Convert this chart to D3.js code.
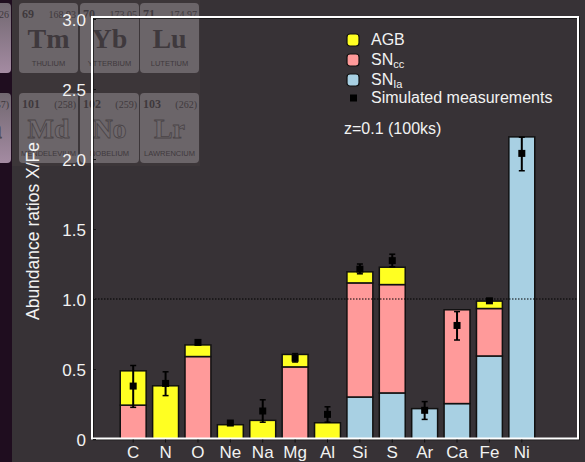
<!DOCTYPE html>
<html>
<head>
<meta charset="utf-8">
<script src="https://cdn.jsdelivr.net/npm/d3@7"></script>
<style>
  html, body { margin: 0; padding: 0; background: #373236; }
  svg { display: block; font-family: "Liberation Sans", Arial, sans-serif; }
</style>
</head>
<body>
<div id="chart"></div>
<script>
// données
const elements = ["C", "N", "O", "Ne", "Na", "Mg", "Al", "Si", "S", "Ar", "Ca", "Fe", "Ni"];
const snIa = [0, 0, 0, 0, 0, 0, 0, 0.30, 0.329, 0.217, 0.253, 0.593, 2.158];
const snCC = [0.242, 0, 0.589, 0, 0, 0.515, 0, 0.815, 0.774, 0, 0.67, 0.339, 0];
const agb  = [0.245, 0.38, 0.083, 0.102, 0.133, 0.089, 0.116, 0.079, 0.124, 0, 0, 0.053, 0];
const measured = [0.378, 0.397, 0.69, 0.114, 0.20, 0.577, 0.176, 1.213, 1.274, 0.205, 0.811, 0.987, 2.04];
const errLow   = [0.226, 0.31, 0.68, 0.105, 0.12, 0.55, 0.12, 1.18, 1.23, 0.14, 0.707, 0.98, 1.916];
const errHigh  = [0.525, 0.48, 0.70, 0.122, 0.28, 0.61, 0.23, 1.25, 1.32, 0.267, 0.91, 0.995, 2.156];
const yTicks = [0, 0.5, 1.0, 1.5, 2.0, 2.5, 3.0];
const yTickLabels = ["0", "0.5", "1.0", "1.5", "2.0", "2.5", "3.0"];

// tableau périodique en fond (décor)
const ptRow1 = [
  { num: "68", mass: "167.26", sym: "Er", name: "ERBIUM" },
  { num: "69", mass: "168.93", sym: "Tm", name: "THULIUM" },
  { num: "70", mass: "173.05", sym: "Yb", name: "YTTERBIUM" },
  { num: "71", mass: "174.97", sym: "Lu", name: "LUTETIUM" }
];
const ptRow2 = [
  { num: "100", mass: "(257)", sym: "Fm", name: "FERMIUM" },
  { num: "101", mass: "(258)", sym: "Md", name: "MENDELEVIUM" },
  { num: "102", mass: "(259)", sym: "No", name: "NOBELIUM" },
  { num: "103", mass: "(262)", sym: "Lr", name: "LAWRENCIUM" }
];

const width = 585, height = 462;
const frame = { left: 92, right: 578 };

const svg = d3.select("#chart").append("svg")
  .attr("width", width)
  .attr("height", height);

const defs = svg.append("defs");
const grad = defs.append("linearGradient")
  .attr("id", "purpleCell")
  .attr("x1", 0).attr("y1", 0).attr("x2", 0).attr("y2", 1);
grad.append("stop").attr("offset", "0%").attr("stop-color", "#716870");
grad.append("stop").attr("offset", "100%").attr("stop-color", "#a48ba2");

// fond
svg.append("rect").attr("width", width).attr("height", height).attr("fill", "#373236");
svg.append("rect").attr("x", 0).attr("y", 0).attr("width", 12).attr("height", height).attr("fill", "#1f0d1f");
svg.append("rect").attr("x", 12).attr("y", 0).attr("width", 188).attr("height", 166).attr("fill", "#3c3639");

/***** tableau périodique *****/
const pt = svg.append("g");
const cellX = [-48, 19, 80, 140];
const cellW = 59;
function drawRow(row, y0, outlined) {
  row.forEach(function(d, i) {
    const x0 = cellX[i];
    const g = pt.append("g").attr("transform", `translate(${x0},${y0})`);
    g.append("rect")
      .attr("width", cellW).attr("height", 70).attr("rx", 4)
      .attr("fill", i === 0 ? "url(#purpleCell)" : "#6b6569");
    g.append("text").attr("x", 3).attr("y", 15)
      .style("font-family", "Liberation Serif, serif").style("font-weight", "bold")
      .style("font-size", "12px").attr("fill", "#3f393d").text(d.num);
    g.append("text").attr("x", cellW - 2).attr("y", 15).attr("text-anchor", "end")
      .style("font-family", "Liberation Serif, serif")
      .style("font-size", "10px").attr("fill", "#3f393d").text(d.mass);
    g.append("text").attr("x", cellW / 2).attr("y", 45).attr("text-anchor", "middle")
      .style("font-family", "Liberation Serif, serif").style("font-weight", "bold")
      .style("font-size", "28px")
      .attr("fill", outlined ? "#6f696d" : "#3f393d")
      .attr("stroke", outlined ? "#4a4447" : "none")
      .attr("stroke-width", outlined ? 0.8 : 0)
      .text(d.sym);
    g.append("text").attr("x", cellW / 2).attr("y", 63).attr("text-anchor", "middle")
      .style("font-size", "7.5px").attr("fill", "#3f393d").text(d.name);
  });
}
drawRow(ptRow1, 3, false);
drawRow(ptRow2, 93, true);

/***** échelles *****/
const y = d3.scaleLinear().domain([0, 3]).range([439, 19]);
const x = d3.scaleBand()
  .domain(elements)
  .range([117, 538])
  .paddingInner(0.2)
  .paddingOuter(0.1);

// cadre (ombre)
const frameTop = y(3) - 2, frameBottom = y(0) - 0.5;
svg.append("rect")
  .attr("x", frame.left + 1).attr("y", frameTop + 1)
  .attr("width", frame.right - frame.left).attr("height", frameBottom - frameTop)
  .attr("fill", "none").attr("stroke", "#111").attr("stroke-width", 1.5);

/***** barres empilées *****/
const color = { snIa: "#a8d0e3", snCC: "#ff9a9a", agb: "#ffff22" };
const stackData = elements.map(function(e, i) {
  return { el: e, snIa: snIa[i], snCC: snCC[i], agb: agb[i] };
});
const stacked = d3.stack().keys(["snIa", "snCC", "agb"])(stackData);

svg.append("g")
  .selectAll("g")
  .data(stacked)
  .join("g")
  .attr("fill", function(d) { return color[d.key]; })
  .selectAll("rect")
  .data(function(d) { return d.filter(function(s) { return s[1] - s[0] > 0; }); })
  .join("rect")
  .attr("x", function(d) { return x(d.data.el); })
  .attr("y", function(d) { return y(d[1]); })
  .attr("width", x.bandwidth())
  .attr("height", function(d) { return y(d[0]) - y(d[1]); })
  .attr("stroke", "#111")
  .attr("stroke-width", 1.5);

// ligne pointillée à 1
svg.append("line")
  .attr("x1", frame.left).attr("x2", frame.right)
  .attr("y1", y(1)).attr("y2", y(1))
  .attr("stroke", "#000").attr("stroke-width", 1)
  .attr("stroke-dasharray", "1.5,1.5");

/***** mesures simulées *****/
const meas = svg.append("g");
elements.forEach(function(e, i) {
  const cx = x(e) + x.bandwidth() / 2;
  meas.append("line")
    .attr("x1", cx).attr("x2", cx)
    .attr("y1", y(errLow[i])).attr("y2", y(errHigh[i]))
    .attr("stroke", "#000").attr("stroke-width", 2);
  [errLow[i], errHigh[i]].forEach(function(v) {
    meas.append("line")
      .attr("x1", cx - 3).attr("x2", cx + 3)
      .attr("y1", y(v)).attr("y2", y(v))
      .attr("stroke", "#000").attr("stroke-width", 1.5);
  });
  meas.append("rect")
    .attr("x", cx - 3.5).attr("y", y(measured[i]) - 3.5)
    .attr("width", 7).attr("height", 7)
    .attr("fill", "#000");
});

// cadre blanc
svg.append("rect")
  .attr("x", frame.left).attr("y", frameTop)
  .attr("width", frame.right - frame.left).attr("height", frameBottom - frameTop)
  .attr("fill", "none").attr("stroke", "#fff").attr("stroke-width", 2);

/***** axes *****/
const yAxis = svg.append("g")
  .attr("transform", `translate(${frame.left},0)`)
  .call(d3.axisRight(y).tickValues(yTicks).tickSize(3)
    .tickFormat(function(d, i) { return yTickLabels[i]; }));
yAxis.select(".domain").remove();
yAxis.selectAll("line").attr("stroke", "#111").attr("transform", "translate(1,0)");
yAxis.selectAll("text")
  .attr("x", -6).attr("dy", "0.4em")
  .attr("text-anchor", "end")
  .attr("fill", "#f2f2f2")
  .style("font-size", "17px")
  .style("font-family", "Liberation Sans, Arial, sans-serif");

const xAxis = svg.append("g")
  .attr("transform", `translate(0,${frameBottom + 1})`)
  .call(d3.axisBottom(x).tickSize(3).tickSizeOuter(0));
xAxis.select(".domain").remove();
xAxis.selectAll("line").attr("stroke", "#111");
xAxis.selectAll("text")
  .attr("y", 18.5).attr("dy", 0)
  .attr("fill", "#f2f2f2")
  .style("font-size", "17px")
  .style("font-family", "Liberation Sans, Arial, sans-serif");

// titre axe Y
svg.append("text")
  .attr("transform", "translate(39,231) rotate(-90)")
  .attr("text-anchor", "middle")
  .attr("fill", "#f2f2f2")
  .style("font-size", "17.5px")
  .text("Abundance ratios X/Fe");

/***** légende *****/
const legend = svg.append("g").attr("transform", "translate(347,0)");
const legItems = [
  { label: "AGB", sub: null, fill: color.agb },
  { label: "SN", sub: "cc", fill: color.snCC },
  { label: "SN", sub: "Ia", fill: color.snIa }
];
legItems.forEach(function(d, i) {
  const cy = 40 + i * 20;
  legend.append("rect")
    .attr("x", 0).attr("y", cy - 6)
    .attr("width", 12).attr("height", 12).attr("rx", 3)
    .attr("fill", d.fill).attr("stroke", "#111").attr("stroke-width", 1.2);
  const t = legend.append("text")
    .attr("x", 24).attr("y", cy + 5)
    .attr("fill", "#f2f2f2")
    .style("font-size", "16px")
    .text(d.label);
  if (d.sub) {
    t.append("tspan").attr("dy", 3).style("font-size", "11px").text(d.sub);
  }
});
legend.append("rect")
  .attr("x", 3).attr("y", 98 - 3.5)
  .attr("width", 7).attr("height", 7)
  .attr("fill", "#000");
legend.append("text")
  .attr("x", 24).attr("y", 103)
  .attr("fill", "#f2f2f2")
  .style("font-size", "16px")
  .text("Simulated measurements");

svg.append("text")
  .attr("x", 344).attr("y", 134)
  .attr("fill", "#f2f2f2")
  .style("font-size", "16px")
  .text("z=0.1 (100ks)");
</script>
</body>
</html>
